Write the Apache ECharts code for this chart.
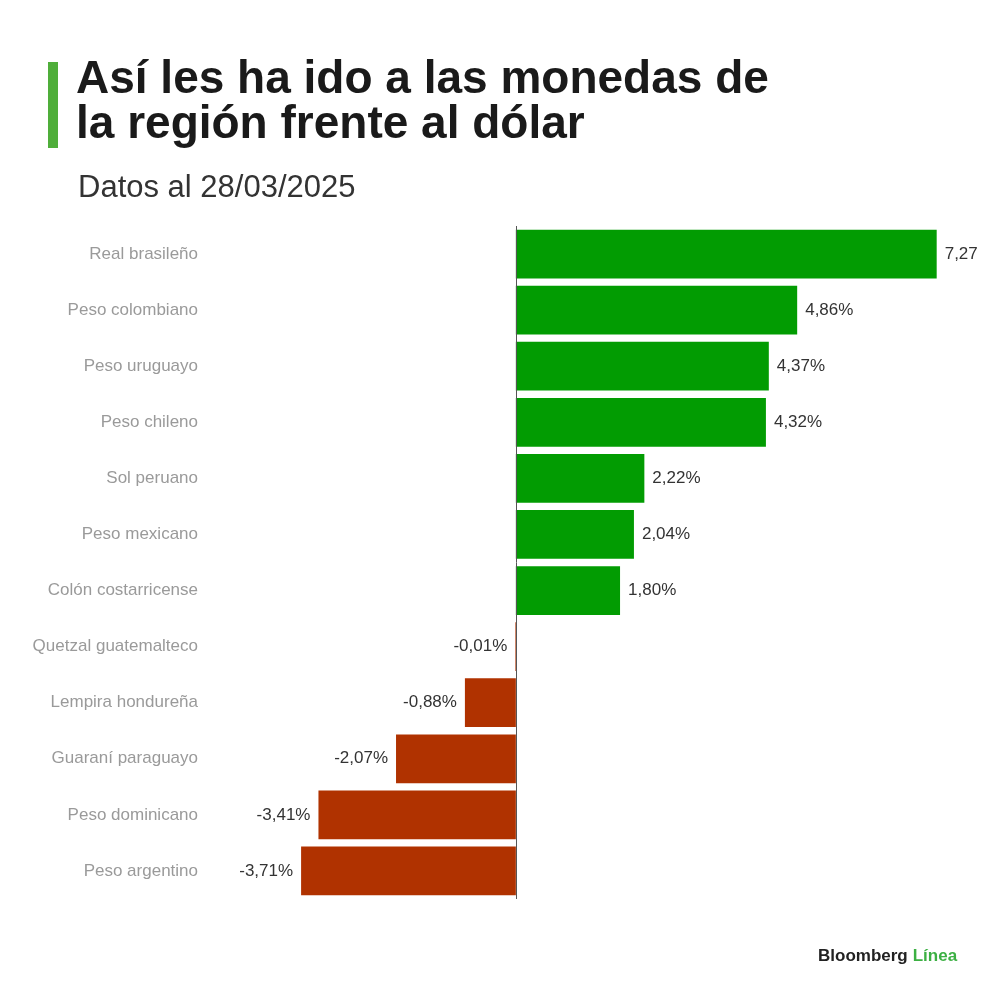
<!DOCTYPE html>
<html>
<head>
<meta charset="utf-8">
<script src="https://cdn.jsdelivr.net/npm/echarts@6/dist/echarts.min.js"></script>
<style>
html,body{margin:0;padding:0;background:#fff;}
#chart{width:977px;height:1000px;}
</style>
</head>
<body>
<div id="chart"></div>
<script>
const categories = ["Real brasileño","Peso colombiano","Peso uruguayo","Peso chileno","Sol peruano","Peso mexicano","Colón costarricense","Quetzal guatemalteco","Lempira hondureña","Guaraní paraguayo","Peso dominicano","Peso argentino"];
const values = [7.27, 4.86, 4.37, 4.32, 2.22, 2.04, 1.80, -0.01, -0.88, -2.07, -3.41, -3.71];
const titleText = "Así les ha ido a las monedas de\nla región frente al dólar";
const subtitleText = "Datos al 28/03/2025";

const GREEN = '#029c02', RED = '#b03200';
const fmt = v => v.toFixed(2).replace('.', ',') + '%';

const chart = echarts.init(document.getElementById('chart'), null, {renderer:'canvas'});
chart.setOption({
  backgroundColor:'#fff',
  animation:false,
  title:[
    {text:titleText, left:71, top:53,
     textStyle:{fontFamily:'Liberation Sans', fontSize:46, fontWeight:'bold', color:'#1a1a1a', lineHeight:45}},
    {text:subtitleText, left:73, top:168,
     textStyle:{fontFamily:'Liberation Sans', fontSize:31, fontWeight:'normal', color:'#333'}},
    {text:'{a|Bloomberg} {b|Línea}', left:813, top:942,
     textStyle:{rich:{
       a:{fontFamily:'Liberation Sans', fontSize:17, fontWeight:'bold', color:'#222'},
       b:{fontFamily:'Liberation Sans', fontSize:17, fontWeight:'bold', color:'#3cb043'}}}}
  ],
  graphic:[
    {type:'rect', shape:{x:48, y:62, width:10, height:86}, style:{fill:'#4fae3a'}}
  ],
  grid:{left:205, width:745, top:226, height:673},
  xAxis:{type:'value', min:-5.37, max:7.5, show:false},
  yAxis:{type:'category', data:categories, inverse:true,
    axisLine:{show:false}, axisTick:{show:false}, splitLine:{show:false},
    axisLabel:{color:'#9a9a9a', fontSize:17, fontFamily:'Liberation Sans', margin:7}},
  series:[{
    type:'bar',
    data: values.map(v => ({value:v, itemStyle:{color: v >= 0 ? GREEN : RED},
      label:{position: v >= 0 ? 'right' : 'left'}})),
    barCategoryGap:'13%',
    label:{show:true, formatter: p => fmt(p.value), color:'#333', fontSize:17,
      fontFamily:'Liberation Sans', distance:8},
    markLine:{silent:true, symbol:'none', label:{show:false},
      lineStyle:{color:'#555', width:1, type:'solid'},
      data:[{xAxis:0}]}
  }]
});
</script>
</body>
</html>
